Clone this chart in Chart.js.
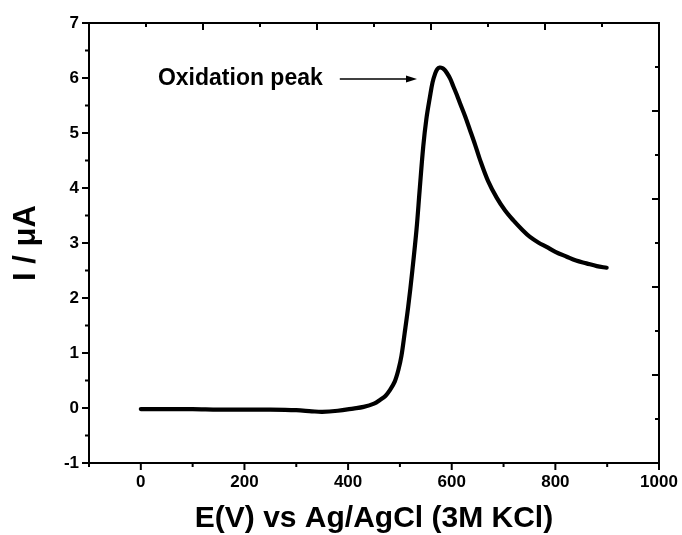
<!DOCTYPE html>
<html>
<head>
<meta charset="utf-8">
<script src="https://cdn.jsdelivr.net/npm/chart.js@4"></script>
<style>
  html, body { margin: 0; padding: 0; background: #fff; }
  #wrap { width: 682px; height: 535px; }
</style>
</head>
<body>
<div id="wrap"><canvas id="cv" width="682" height="535"></canvas></div>
<script>
/* ---------------- DATA ---------------- */
// potential (x) and current (y, uA)
const potential = [0, 50, 100, 150, 200, 250, 300, 330, 350, 380, 410, 430, 450, 462, 472, 481, 490, 497, 503, 509,
                   516, 524, 532, 538, 545, 551, 558, 563, 568, 572, 577, 582, 586, 590, 597, 603, 610, 616, 626, 635,
                   645, 654, 670, 687, 703, 719, 735, 751, 767, 783, 800, 822, 840, 860, 880, 899];
const current   = [-0.02, -0.02, -0.02, -0.03, -0.03, -0.03, -0.04, -0.06, -0.07, -0.05, -0.01, 0.02, 0.08, 0.15, 0.22, 0.33, 0.48, 0.69, 0.95, 1.35,
                   1.84, 2.5, 3.24, 3.95, 4.75, 5.25, 5.66, 5.92, 6.08, 6.16, 6.19, 6.18, 6.15, 6.1, 5.99, 5.85, 5.69, 5.54, 5.3, 5.06,
                   4.79, 4.53, 4.13, 3.82, 3.59, 3.41, 3.25, 3.11, 3.01, 2.93, 2.84, 2.75, 2.68, 2.63, 2.58, 2.55];

const xTicks      = [0, 200, 400, 600, 800, 1000];
const xMinorTicks = [-100, 100, 300, 500, 700, 900];
const yTicks      = [-1, 0, 1, 2, 3, 4, 5, 6, 7];
const yMinorTicks = [-0.5, 0.5, 1.5, 2.5, 3.5, 4.5, 5.5, 6.5];
// mirrored top / right axes have their own spacing
const topTicks        = [120, 340, 560, 780];
const topMinorTicks   = [10, 230, 450, 670, 890];
const rightTicks      = [0.6, 2.2, 3.8, 5.4];
const rightMinorTicks = [-0.2, 1.4, 3.0, 4.6, 6.2];

const peakLabel = { text: "Oxidation peak", x: 33, y: 5.98, arrowFrom: 384, arrowTo: 533 };
/* -------------------------------------- */

const FONT = "'Liberation Sans', Arial, sans-serif";

/* Frame, tick marks and arrow annotation */
const frameTicks = {
    id: "frameTicks",
    afterDraw(chart) {
        const { ctx, chartArea: a, scales: { x, y } } = chart;
        ctx.save();
        ctx.strokeStyle = "#000";
        ctx.lineWidth = 2;
        ctx.lineCap = "butt";
        ctx.strokeRect(a.left, a.top, a.right - a.left, a.bottom - a.top);

        const seg = (x1, y1, x2, y2) => {
            ctx.beginPath(); ctx.moveTo(x1, y1); ctx.lineTo(x2, y2); ctx.stroke();
        };
        const MAJ = 7, MIN = 4;

        // bottom (outward)
        xTicks.forEach(v => { const p = x.getPixelForValue(v); seg(p, a.bottom, p, a.bottom + MAJ); });
        xMinorTicks.forEach(v => { const p = x.getPixelForValue(v); seg(p, a.bottom, p, a.bottom + MIN); });
        // left (outward)
        yTicks.forEach(v => { const p = y.getPixelForValue(v); seg(a.left, p, a.left - MAJ, p); });
        yMinorTicks.forEach(v => { const p = y.getPixelForValue(v); seg(a.left, p, a.left - MIN, p); });
        // top (inward)
        topTicks.forEach(v => { const p = x.getPixelForValue(v); seg(p, a.top, p, a.top + MAJ); });
        topMinorTicks.forEach(v => { const p = x.getPixelForValue(v); seg(p, a.top, p, a.top + MIN); });
        // right (inward)
        rightTicks.forEach(v => { const p = y.getPixelForValue(v); seg(a.right, p, a.right - MAJ, p); });
        rightMinorTicks.forEach(v => { const p = y.getPixelForValue(v); seg(a.right, p, a.right - MIN, p); });

        // annotation
        const ty = y.getPixelForValue(peakLabel.y);
        ctx.fillStyle = "#000";
        ctx.font = "bold 23px " + FONT;
        ctx.textAlign = "left";
        ctx.textBaseline = "middle";
        ctx.fillText(peakLabel.text, x.getPixelForValue(peakLabel.x), ty);

        const ax1 = x.getPixelForValue(peakLabel.arrowFrom);
        const ax2 = x.getPixelForValue(peakLabel.arrowTo);
        ctx.lineWidth = 1.5;
        seg(ax1, ty, ax2 - 8, ty);
        ctx.beginPath();
        ctx.moveTo(ax2, ty);
        ctx.lineTo(ax2 - 11, ty - 3.5);
        ctx.lineTo(ax2 - 11, ty + 3.5);
        ctx.closePath();
        ctx.fill();
        ctx.restore();
    }
};

new Chart(document.getElementById("cv"), {
    type: "scatter",
    data: {
        datasets: [{
            data: potential.map((v, i) => ({ x: v, y: current[i] })),
            showLine: true,
            borderColor: "#000",
            borderWidth: 4.2,
            pointRadius: 0,
            tension: 0.35,
            borderCapStyle: "round",
            borderJoinStyle: "round"
        }]
    },
    options: {
        responsive: false,
        animation: false,
        devicePixelRatio: 1,
        layout: { padding: { left: 0, right: 23, top: 23, bottom: 0 } },
        plugins: { legend: { display: false }, tooltip: { enabled: false } },
        scales: {
            x: {
                type: "linear",
                min: -100, max: 1000,
                afterBuildTicks: s => { s.ticks = xTicks.map(v => ({ value: v })); },
                afterFit: s => { s.height = 72; s.paddingLeft = 0; s.paddingRight = 0; },
                grid: { display: false, drawTicks: false },
                border: { display: false },
                ticks: {
                    color: "#000", padding: 9, maxRotation: 0,
                    callback: v => String(v),
                    font: { family: FONT, size: 17, weight: "bold" }
                },
                title: {
                    display: true,
                    text: "E(V) vs Ag/AgCl (3M KCl)",
                    color: "#000",
                    padding: { top: 0, bottom: 1 },
                    font: { family: FONT, size: 30, weight: "bold", lineHeight: 1 }
                }
            },
            y: {
                type: "linear",
                min: -1, max: 7,
                afterBuildTicks: s => { s.ticks = yTicks.map(v => ({ value: v })); },
                afterFit: s => { s.width = 89; s.paddingTop = 0; s.paddingBottom = 0; },
                grid: { display: false, drawTicks: false },
                border: { display: false },
                ticks: { color: "#000", padding: 10, font: { family: FONT, size: 17, weight: "bold" } },
                title: {
                    display: true,
                    text: "I / \u03BCA",
                    color: "#000",
                    padding: { top: 11, bottom: 0 },
                    font: { family: FONT, size: 31, weight: "bold", lineHeight: 1 }
                }
            }
        }
    },
    plugins: [frameTicks]
});
</script>
</body>
</html>
